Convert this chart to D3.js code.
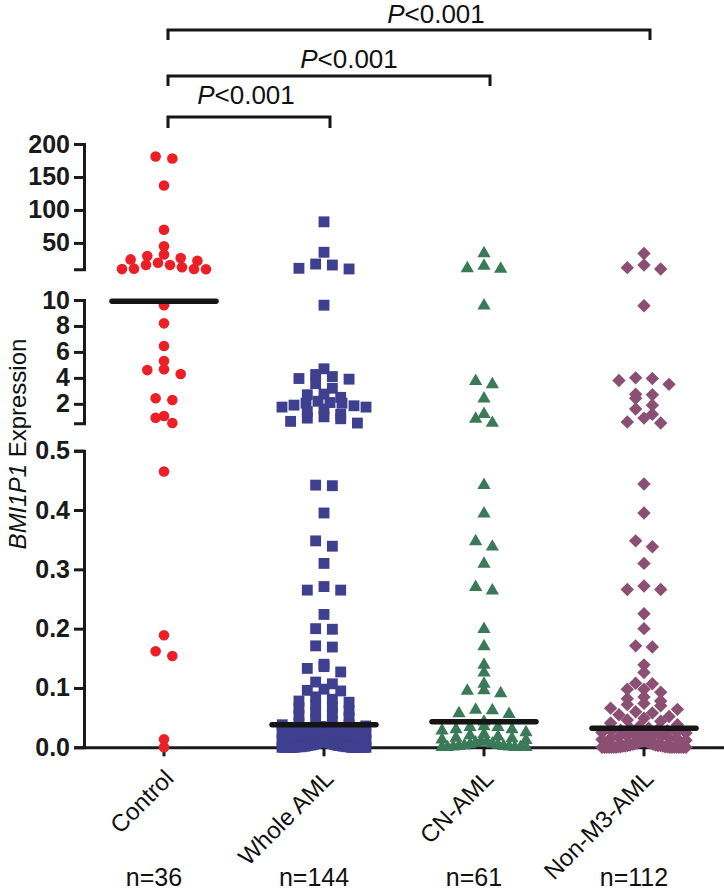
<!DOCTYPE html>
<html><head><meta charset="utf-8">
<script src="https://cdn.jsdelivr.net/npm/d3@7"></script>
<style>body{margin:0;background:#fff}svg{display:block}</style>
</head><body>
<svg id="chart" width="724" height="892"></svg>
<script>
// ---------------- data ----------------
const categories = ["Control", "Whole AML", "CN-AML", "Non-M3-AML"];
const sampleSizes = ["n=36", "n=144", "n=61", "n=112"];

const controlValues = [181, 178, 137, 70, 45, 32.5, 30, 27, 25, 23, 20, 16.5, 16.5, 13, 11, 10.5, 10.3, 10.2,
  9.6, 8.2, 6.45, 5.3, 4.66, 4.6, 4.3, 2.43, 2.3, 1.06, 0.93, 0.52,
  0.465, 0.189, 0.162, 0.154, 0.0135, 0.0];

const wholeAmlValues = [82, 35.8, 18, 16.5, 11.5, 10.5,
  9.6, 4.7, 4.26, 4.1, 3.95, 3.9, 3.56, 3.2, 2.75, 2.7, 2.5, 2.2, 2.1, 2.05, 2.05, 1.9, 1.85, 1.75, 1.75, 1.6, 1.4, 1.2, 1.0, 0.9, 0.85, 0.65, 0.52,
  0.442, 0.441, 0.395, 0.348, 0.339, 0.31, 0.271, 0.265, 0.265, 0.224, 0.2, 0.199, 0.171, 0.169, 0.14, 0.136, 0.133, 0.127, 0.11, 0.107, 0.098, 0.096, 0.095,
  0.085, 0.081, 0.078, 0.076, 0.072, 0.068, 0.066, 0.062, 0.06, 0.057, 0.054, 0.05, 0.047, 0.044, 0.041,
  0.038, 0.038,
  0.036, 0.035, 0.034, 0.033, 0.032, 0.031, 0.03, 0.03, 0.029, 0.028,
  0.027, 0.026, 0.025, 0.025, 0.024, 0.023, 0.022, 0.021, 0.02, 0.02,
  0.019, 0.018, 0.017, 0.016, 0.016, 0.015, 0.014, 0.013, 0.012, 0.012,
  0.011, 0.01, 0.01, 0.009, 0.008, 0.008, 0.007, 0.006, 0.006, 0.005,
  0.005, 0.004, 0.004, 0.004, 0.003, 0.003, 0.003, 0.002, 0.002, 0.002,
  0.002, 0.001, 0.001, 0.001, 0.001, 0.001, 0, 0, 0, 0,
  0, 0, 0, 0, 0, 0, 0, 0, 0, 0, 0];

const cnAmlValues = [34, 15, 11.5, 10.7,
  9.56, 3.75, 3.5, 2.4, 1.2, 0.84, 0.52,
  0.442, 0.394, 0.347, 0.338, 0.309, 0.27, 0.264, 0.199, 0.17, 0.139, 0.126, 0.107, 0.096, 0.095, 0.091,
  0.063, 0.062, 0.057, 0.056, 0.043,
  0.035, 0.034, 0.034, 0.03, 0.03, 0.028, 0.025, 0.022, 0.02, 0.018,
  0.016, 0.015, 0.013, 0.012, 0.01, 0.009, 0.008, 0.006, 0.005, 0.004,
  0.003, 0.002, 0.002, 0.001, 0.001, 0, 0, 0, 0, 0];

const nonM3AmlValues = [34, 16.5, 12.5, 10.5,
  9.56, 4.0, 3.95, 3.8, 3.5, 2.74, 2.7, 2.43, 1.9, 1.6, 1.2, 0.9, 0.6, 0.52,
  0.444, 0.395, 0.348, 0.338, 0.31, 0.272, 0.266, 0.266, 0.225, 0.2, 0.171, 0.169, 0.139, 0.126, 0.108, 0.107, 0.098, 0.098, 0.093,
  0.085, 0.082, 0.078, 0.074, 0.072, 0.07, 0.066, 0.064, 0.06, 0.058, 0.055, 0.052, 0.049, 0.046, 0.044, 0.041, 0.038, 0.035,
  0.032, 0.032,
  0.03, 0.029, 0.028, 0.027, 0.026, 0.025, 0.024, 0.022, 0.021, 0.02,
  0.019, 0.018, 0.017, 0.016, 0.015, 0.014, 0.013, 0.012, 0.011, 0.01,
  0.01, 0.009, 0.008, 0.007, 0.007, 0.006, 0.005, 0.005, 0.004, 0.004,
  0.003, 0.003, 0.003, 0.002, 0.002, 0.002, 0.001, 0.001, 0.001, 0.001,
  0, 0, 0, 0, 0, 0, 0, 0, 0, 0, 0, 0, 0, 0, 0];

const topTicks = [50, 100, 150, 200];
const midTicks = [2, 4, 6, 8, 10];
const lowTicks = [0, 0.1, 0.2, 0.3, 0.4, 0.5];
const comparisons = [[0, 1], [0, 2], [0, 3]];
const pText = "<0.001";
const yLabelItalic = "BMI1P1";
const yLabelRest = " Expression";

// ---------------- style / layout ----------------
const groups = [controlValues, wholeAmlValues, cnAmlValues, nonM3AmlValues];
const colors = ["#ec1e26", "#3e3f8e", "#3a7a59", "#8c4f74"];
const symbolGens = [
  d3.symbol().type(d3.symbolCircle).size(88),
  d3.symbol().type(d3.symbolSquare).size(118),
  d3.symbol().type(d3.symbolTriangle).size(76),
  d3.symbol().type(d3.symbolSquare).size(90)
];
const symbolRot = [0, 0, 0, 45];
const FONT = "'Liberation Sans', Arial, Helvetica, sans-serif";
const axisX = 84;

const yTop = d3.scaleLinear().domain([10, 200]).range([269.3, 144]);
const yMid = d3.scaleLinear().domain([0.5, 10]).range([423.3, 300]);
const yLow = d3.scaleLinear().domain([0, 0.5]).range([747.3, 450.7]);
function yPos(v) { return v > 10 ? yTop(v) : (v > 0.5 ? yMid(v) : yLow(v)); }

const xBand = d3.scaleBand().domain(categories).range([axisX, 724]);
const cx = c => xBand(c) + xBand.bandwidth() / 2;

const svg = d3.select("#chart");

// axes
function styleAxis(g, fontSize) {
  g.select(".domain").attr("stroke", "#1a1a1a").attr("stroke-width", 3);
  g.selectAll(".tick line").attr("stroke", "#1a1a1a").attr("stroke-width", 3);
  g.selectAll(".tick text").attr("font-family", FONT).attr("font-weight", "bold")
    .attr("font-size", fontSize).attr("fill", "#1a1a1a");
}
const gTop = svg.append("g").attr("transform", `translate(${axisX},0)`)
  .call(d3.axisLeft(yTop).tickValues(topTicks).tickSize(10).tickPadding(4));
styleAxis(gTop, 25);
const gMid = svg.append("g").attr("transform", `translate(${axisX},0)`)
  .call(d3.axisLeft(yMid).tickValues(midTicks).tickSize(10).tickPadding(4));
styleAxis(gMid, 25);
const gLow = svg.append("g").attr("transform", `translate(${axisX},0)`)
  .call(d3.axisLeft(yLow).tickValues(lowTicks).tickFormat(d3.format(".1f")).tickSize(10).tickPadding(4));
styleAxis(gLow, 25);
const gX = svg.append("g").attr("transform", `translate(0,${yLow(0)})`)
  .call(d3.axisBottom(xBand).tickSize(9).tickSizeOuter(0).tickFormat(""));
styleAxis(gX, 25);

// beeswarm-like row layout (GraphPad style)
const rowH = 7, step = 16.7, maxHalf = 42;
function layout(values, center) {
  const pts = values.map((v, i) => ({ v, i, py: yPos(v) }));
  const sorted = pts.slice().sort((a, b) => b.py - a.py || a.i - b.i);
  const rows = [];
  let cur = null;
  for (const p of sorted) {
    if (!cur || cur.start - p.py > rowH) { cur = { start: p.py, items: [] }; rows.push(cur); }
    cur.items.push(p);
  }
  for (const r of rows) {
    const n = r.items.length;
    const sp = n > 1 ? Math.min(step, 2 * maxHalf / (n - 1)) : 0;
    const slots = d3.range(n).map(k => (k - (n - 1) / 2) * sp)
      .sort((a, b) => Math.abs(a) - Math.abs(b) || a - b);
    const items = r.items.slice().sort((a, b) => a.py - b.py || a.i - b.i);
    items.forEach((p, k) => { p.px = center + slots[k]; });
  }
  return pts;
}

// points
groups.forEach((vals, gi) => {
  const pts = layout(vals, cx(categories[gi]));
  svg.append("g").selectAll("path").data(pts).join("path")
    .attr("d", symbolGens[gi])
    .attr("transform", d => `translate(${d.px},${d.py}) rotate(${symbolRot[gi]})`)
    .attr("fill", colors[gi]);
});

// median lines
groups.forEach((vals, gi) => {
  const m = d3.median(vals);
  const c = cx(categories[gi]);
  svg.append("line").attr("x1", c - 52).attr("x2", c + 52)
    .attr("y1", yPos(m)).attr("y2", yPos(m))
    .attr("stroke", "#151515").attr("stroke-width", 5.5).attr("stroke-linecap", "round");
});

// x tick labels
categories.forEach((c, i) => {
  svg.append("text").attr("transform", `translate(${cx(c) + 11},780) rotate(-45)`)
    .attr("text-anchor", "end").attr("font-family", FONT).attr("font-size", 24).attr("fill", "#111")
    .text(c);
  svg.append("text").attr("x", cx(c) - 10).attr("y", 886).attr("text-anchor", "middle")
    .attr("font-family", FONT).attr("font-size", 25).attr("fill", "#111").text(sampleSizes[i]);
});

// y label
const yl = svg.append("text").attr("transform", "translate(26,444) rotate(-90)")
  .attr("text-anchor", "middle").attr("font-family", FONT).attr("font-size", 24).attr("fill", "#111");
yl.append("tspan").attr("font-style", "italic").text(yLabelItalic);
yl.append("tspan").text(yLabelRest);

// significance brackets
const bracketLayout = [{ y: 117, drop: 11, dx: -3, dy: -13 }, { y: 76, drop: 10, dx: 20, dy: -8 }, { y: 30, drop: 10, dx: 27, dy: -7 }];
comparisons.forEach(([a, b], k) => {
  const L = bracketLayout[k];
  const x1 = cx(categories[a]) + 4, x2 = cx(categories[b]) + 6;
  svg.append("path").attr("d", `M${x1},${L.y + L.drop}V${L.y}H${x2}V${L.y + L.drop}`)
    .attr("fill", "none").attr("stroke", "#151515").attr("stroke-width", 3);
  const t = svg.append("text").attr("x", (x1 + x2) / 2 + L.dx).attr("y", L.y + L.dy)
    .attr("text-anchor", "middle").attr("font-family", FONT).attr("font-size", 26).attr("fill", "#111");
  t.append("tspan").attr("font-style", "italic").text("P");
  t.append("tspan").text(pText);
});
</script>
</body></html>
